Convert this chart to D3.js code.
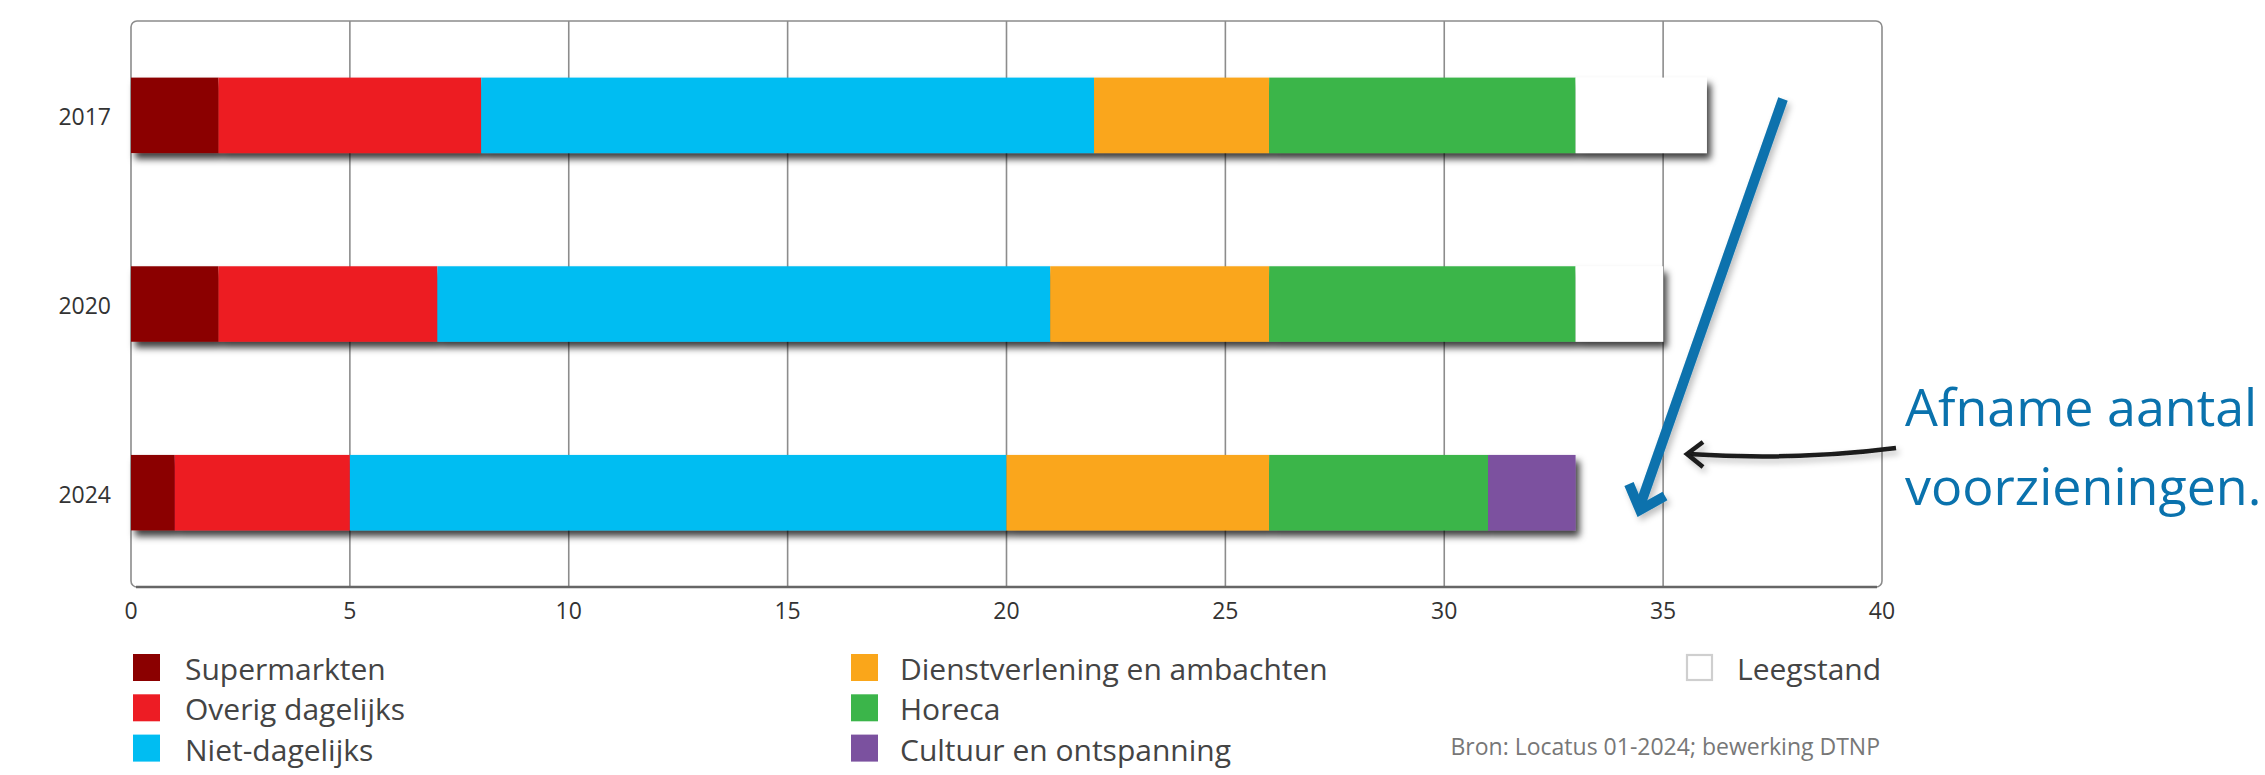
<!DOCTYPE html>
<html>
<head>
<meta charset="utf-8">
<script src="https://cdn.jsdelivr.net/npm/d3@7"></script>
<style>
  html, body { margin: 0; padding: 0; background: #ffffff; }
  svg { display: block; }
  text { font-family: "Open Sans", "Noto Sans", sans-serif; }
</style>
</head>
<body>
<svg id="chart" width="2265" height="775"></svg>
<script>
// ---- data ----
const years = ["2017", "2020", "2024"];
const categories = ["Supermarkten", "Overig dagelijks", "Niet-dagelijks",
  "Dienstverlening en ambachten", "Horeca", "Cultuur en ontspanning", "Leegstand"];
const colors = ["#8b0000", "#ed1c24", "#00bdf2", "#faa61a", "#3bb54a", "#7b519f", "#ffffff"];
const supermarkten = [2, 2, 1];
const overigDagelijks = [6, 5, 4];
const nietDagelijks = [14, 14, 15];
const dienstverlening = [4, 5, 6];
const horeca = [7, 7, 5];
const cultuur = [0, 0, 2];
const leegstand = [3, 2, 0];
const xTicks = [0, 5, 10, 15, 20, 25, 30, 35, 40];
const annotationLines = ["Afname aantal", "voorzieningen."];
const sourceText = "Bron: Locatus 01-2024; bewerking DTNP";

const seriesValues = [supermarkten, overigDagelijks, nietDagelijks, dienstverlening, horeca, cultuur, leegstand];

// ---- layout ----
const svg = d3.select("#chart");
const pLeft = 131, pRight = 1882, pTop = 21, pBottom = 587;

const x = d3.scaleLinear().domain([0, 40]).range([pLeft, pRight]);
const y = d3.scaleBand().domain(years).range([pTop, pBottom]).paddingInner(0.6).paddingOuter(0.3);

// filters
const defs = svg.append("defs");
const sh = defs.append("filter").attr("id", "shadow").attr("x", "-5%").attr("y", "-40%").attr("width", "115%").attr("height", "190%");
sh.append("feGaussianBlur").attr("in", "SourceAlpha").attr("stdDeviation", 3.5).attr("result", "b");
sh.append("feOffset").attr("in", "b").attr("dx", 4).attr("dy", 6).attr("result", "o");
sh.append("feFlood").attr("flood-color", "#000").attr("flood-opacity", 0.75).attr("result", "f");
sh.append("feComposite").attr("in", "f").attr("in2", "o").attr("operator", "in").attr("result", "s");
const m = sh.append("feMerge");
m.append("feMergeNode").attr("in", "s");
m.append("feMergeNode").attr("in", "SourceGraphic");

const sh2 = defs.append("filter").attr("id", "shadow2").attr("x", "-50%").attr("y", "-50%").attr("width", "200%").attr("height", "200%");
sh2.append("feGaussianBlur").attr("in", "SourceAlpha").attr("stdDeviation", 3).attr("result", "b");
sh2.append("feOffset").attr("in", "b").attr("dx", 3).attr("dy", 4).attr("result", "o");
sh2.append("feFlood").attr("flood-color", "#000").attr("flood-opacity", 0.25).attr("result", "f");
sh2.append("feComposite").attr("in", "f").attr("in2", "o").attr("operator", "in").attr("result", "s");
const m2 = sh2.append("feMerge");
m2.append("feMergeNode").attr("in", "s");
m2.append("feMergeNode").attr("in", "SourceGraphic");

// gridlines
svg.append("g").selectAll("line")
  .data(xTicks.filter(d => d > 0 && d < 40))
  .join("line")
  .attr("x1", d => x(d)).attr("x2", d => x(d))
  .attr("y1", pTop).attr("y2", pBottom)
  .attr("stroke", "#8c8c8c").attr("stroke-width", 1.6);

// frame
svg.append("rect")
  .attr("x", x(0)).attr("y", pTop)
  .attr("width", x(40) - x(0)).attr("height", pBottom - pTop)
  .attr("rx", 6).attr("ry", 6)
  .attr("fill", "none").attr("stroke", "#8c8c8c").attr("stroke-width", 1.6);
svg.append("line")
  .attr("x1", x(0) + 5).attr("x2", x(40) - 5)
  .attr("y1", pBottom).attr("y2", pBottom)
  .attr("stroke", "#666").attr("stroke-width", 2.6);

// stacked data
const rows = years.map((yr, i) => {
  let acc = 0;
  const segs = seriesValues.map((vals, k) => {
    const s = { year: yr, cat: k, x0: acc, x1: acc + vals[i] };
    acc += vals[i];
    return s;
  }).filter(s => s.x1 > s.x0);
  return { year: yr, segs };
});

const barG = svg.append("g").selectAll("g")
  .data(rows)
  .join("g")
  .attr("filter", "url(#shadow)");
barG.selectAll("rect")
  .data(d => d.segs)
  .join("rect")
  .attr("x", d => x(d.x0))
  .attr("y", d => y(d.year))
  .attr("width", d => x(d.x1) - x(d.x0))
  .attr("height", y.bandwidth())
  .attr("fill", d => colors[d.cat]);

// y labels
svg.append("g").selectAll("text")
  .data(years)
  .join("text")
  .attr("x", 111)
  .attr("y", d => y(d) + y.bandwidth() / 2 + 10)
  .attr("text-anchor", "end")
  .attr("font-size", 23)
  .attr("fill", "#333")
  .text(d => d);

// x tick labels
svg.append("g").selectAll("text")
  .data(xTicks)
  .join("text")
  .attr("x", d => x(d))
  .attr("y", 619)
  .attr("text-anchor", "middle")
  .attr("font-size", 23)
  .attr("fill", "#333")
  .text(d => d);

// legend
const legendPos = [
  { cx: 133, tx: 185, row: 0 }, { cx: 133, tx: 185, row: 1 }, { cx: 133, tx: 185, row: 2 },
  { cx: 851, tx: 900, row: 0 }, { cx: 851, tx: 900, row: 1 }, { cx: 851, tx: 900, row: 2 },
  { cx: 1686, tx: 1737, row: 0 }
];
const lg = svg.append("g").selectAll("g")
  .data(categories)
  .join("g");
lg.append("rect")
  .attr("x", (d, i) => legendPos[i].cx + (i === 6 ? 1 : 0))
  .attr("y", (d, i) => 654 + legendPos[i].row * 40.3 + (i === 6 ? 1 : 0))
  .attr("width", (d, i) => i === 6 ? 25 : 27)
  .attr("height", (d, i) => i === 6 ? 25 : 27)
  .attr("fill", (d, i) => colors[i])
  .attr("stroke", (d, i) => i === 6 ? "#cfcfcf" : "none")
  .attr("stroke-width", 2.2);
lg.append("text")
  .attr("x", (d, i) => legendPos[i].tx)
  .attr("y", (d, i) => 680 + legendPos[i].row * 40.3)
  .attr("font-size", 30)
  .attr("fill", "#444")
  .text(d => d);

// source
svg.append("text")
  .attr("x", 1880).attr("y", 755)
  .attr("text-anchor", "end")
  .attr("font-size", 23)
  .attr("fill", "#777")
  .text(sourceText);

// blue arrow
const blue = "#0a72ad";
const ba = svg.append("g").attr("filter", "url(#shadow2)");
ba.append("line")
  .attr("x1", 1783).attr("y1", 99)
  .attr("x2", 1641).attr("y2", 503)
  .attr("stroke", blue).attr("stroke-width", 10);
ba.append("path")
  .attr("d", "M1629,484 L1640,510 L1665,496")
  .attr("fill", "none").attr("stroke", blue).attr("stroke-width", 10)
  .attr("stroke-linejoin", "miter");

// black arrow
const ka = svg.append("g").attr("filter", "url(#shadow2)");
ka.append("path")
  .attr("d", "M1896,448 Q1795,461 1688,454")
  .attr("fill", "none").attr("stroke", "#1a1a1a").attr("stroke-width", 4.5);
ka.append("path")
  .attr("d", "M1703,442 L1687,454 L1703,467")
  .attr("fill", "none").attr("stroke", "#1a1a1a").attr("stroke-width", 4.5)
  .attr("stroke-linejoin", "miter");

// annotation text
svg.append("g").selectAll("text")
  .data(annotationLines)
  .join("text")
  .attr("x", 1905)
  .attr("y", (d, i) => 426 + i * 79)
  .attr("font-size", 52)
  .attr("fill", blue)
  .text(d => d);
</script>
</body>
</html>
